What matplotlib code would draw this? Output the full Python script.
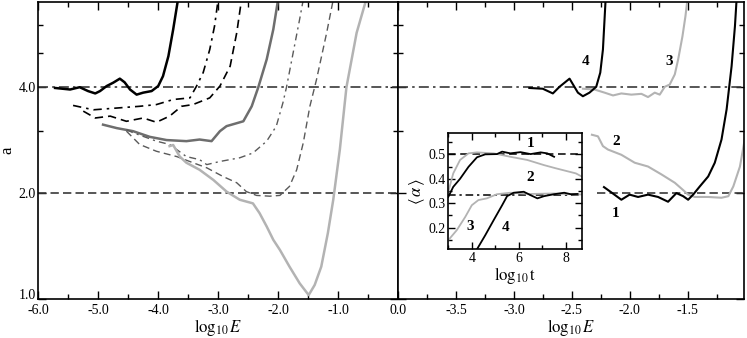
import matplotlib
matplotlib.use("Agg")
import matplotlib.pyplot as plt
from matplotlib.ticker import FixedLocator, FixedFormatter, MultipleLocator, NullFormatter

plt.rcParams['font.family'] = ['Liberation Serif', 'DejaVu Serif']
plt.rcParams['mathtext.fontset'] = 'stix'
plt.rcParams['axes.unicode_minus'] = False

# ---------------- left panel data ----------------
A_x = [-5.72, -5.47, -5.31, -5.17, -5.05, -4.97, -4.86, -4.75, -4.64, -4.56, -4.47, -4.36, -4.25, -4.11, -4.0, -3.92, -3.83, -3.75, -3.67]
A_y = [3.98, 3.94, 4.0, 3.90, 3.84, 3.90, 4.03, 4.12, 4.23, 4.13, 3.94, 3.81, 3.86, 3.90, 4.03, 4.30, 4.90, 5.84, 7.1]

B_x = [-5.42, -5.08, -4.69, -4.31, -4.03, -3.75, -3.47, -3.36, -3.25, -3.14, -3.06, -3.0]
B_y = [3.55, 3.45, 3.49, 3.53, 3.57, 3.69, 3.73, 4.03, 4.40, 5.12, 5.97, 7.1]

C_x = [-5.25, -5.05, -4.80, -4.53, -4.25, -4.03, -3.81, -3.61, -3.42, -3.14, -2.97, -2.80, -2.69, -2.61]
C_y = [3.42, 3.27, 3.31, 3.20, 3.27, 3.18, 3.31, 3.53, 3.57, 3.73, 4.03, 4.59, 5.71, 7.1]

D_x = [-4.92, -4.69, -4.42, -4.14, -3.86, -3.53, -3.31, -3.11, -2.97, -2.86, -2.58, -2.44, -2.33, -2.19, -2.08, -2.0]
D_y = [3.13, 3.06, 3.0, 2.89, 2.83, 2.81, 2.84, 2.81, 3.0, 3.10, 3.20, 3.53, 4.0, 4.80, 5.84, 7.1]

E_x = [-4.53, -4.42, -4.03, -3.81, -3.53, -3.31, -3.19, -2.97, -2.64, -2.42, -2.19, -2.03, -1.92, -1.86, -1.75, -1.64, -1.58]
E_y = [3.03, 2.97, 2.81, 2.75, 2.54, 2.49, 2.41, 2.46, 2.52, 2.60, 2.81, 3.10, 3.61, 4.0, 5.0, 6.25, 7.1]

F_x = [-4.53, -4.31, -4.03, -3.69, -3.42, -3.19, -2.92, -2.69, -2.53, -2.36, -2.14, -1.97, -1.81, -1.69, -1.58, -1.47, -1.36, -1.19, -1.08]
F_y = [3.0, 2.75, 2.63, 2.54, 2.44, 2.36, 2.23, 2.14, 2.02, 1.97, 1.96, 1.97, 2.09, 2.33, 2.78, 3.53, 4.2, 5.71, 7.1]

G_x = [-3.81, -3.75, -3.64, -3.53, -3.31, -3.08, -2.86, -2.64, -2.42, -2.31, -2.19, -2.08, -1.97, -1.81, -1.64, -1.49, -1.39, -1.28, -1.17, -1.08, -0.97, -0.86, -0.69, -0.53]
G_y = [2.72, 2.74, 2.54, 2.44, 2.33, 2.18, 2.02, 1.915, 1.87, 1.755, 1.607, 1.473, 1.379, 1.236, 1.108, 1.026, 1.096, 1.236, 1.539, 1.915, 2.66, 4.0, 5.71, 7.1]

# ---------------- right panel data ----------------
R1_x = [-2.223, -2.160, -2.073, -2.002, -1.929, -1.843, -1.756, -1.670, -1.598, -1.540, -1.497, -1.454, -1.396, -1.324, -1.267, -1.209, -1.165, -1.122, -1.093, -1.079]
R1_y = [2.08, 2.01, 1.915, 1.98, 1.95, 1.98, 1.95, 1.89, 2.00, 1.96, 1.915, 1.98, 2.09, 2.23, 2.44, 2.84, 3.46, 4.59, 5.97, 7.1]

R2_x = [-2.327, -2.275, -2.232, -2.189, -2.073, -1.958, -1.843, -1.727, -1.612, -1.540, -1.497, -1.440, -1.324, -1.209, -1.150, -1.107, -1.050, -1.0]
R2_y = [2.93, 2.90, 2.72, 2.66, 2.57, 2.44, 2.38, 2.26, 2.14, 2.04, 1.98, 1.95, 1.95, 1.94, 1.96, 2.09, 2.38, 2.95]

R3_x = [-2.405, -2.305, -2.218, -2.145, -2.073, -1.987, -1.900, -1.843, -1.785, -1.742, -1.699, -1.656, -1.612, -1.583, -1.546, -1.520, -1.503]
R3_y = [3.96, 3.94, 3.86, 3.79, 3.84, 3.81, 3.83, 3.75, 3.86, 3.81, 4.01, 4.07, 4.35, 4.80, 5.58, 6.37, 7.1]

R4_x = [-2.867, -2.751, -2.664, -2.607, -2.520, -2.448, -2.405, -2.348, -2.290, -2.255, -2.232, -2.209]
R4_y = [3.98, 3.96, 3.84, 4.01, 4.23, 3.86, 3.77, 3.86, 4.01, 4.40, 5.12, 7.1]

# ---------------- inset data ----------------
I1_t = [3.0, 3.21, 3.50, 3.86, 4.22, 4.57, 5.07, 5.29, 5.64, 6.07, 6.50, 6.93, 7.21, 7.50]
I1_a = [0.326, 0.367, 0.40, 0.449, 0.488, 0.50, 0.501, 0.511, 0.504, 0.509, 0.501, 0.508, 0.504, 0.49]
I2_t = [3.0, 3.21, 3.50, 3.86, 4.22, 4.93, 5.64, 6.36, 7.07, 7.57, 8.43, 8.7]
I2_a = [0.347, 0.422, 0.477, 0.504, 0.508, 0.504, 0.49, 0.477, 0.456, 0.443, 0.422, 0.408]
I3_t = [3.0, 3.36, 3.72, 4.0, 4.28, 4.64, 5.07, 5.64, 6.5, 7.5, 8.43, 8.7]
I3_a = [0.149, 0.19, 0.244, 0.292, 0.313, 0.32, 0.337, 0.343, 0.338, 0.340, 0.336, 0.336]
I4_t = [4.22, 4.57, 4.93, 5.29, 5.50, 5.78, 6.21, 6.50, 6.79, 7.07, 7.50, 7.93, 8.21, 8.5]
I4_a = [0.112, 0.169, 0.231, 0.292, 0.329, 0.343, 0.347, 0.333, 0.32, 0.329, 0.337, 0.343, 0.337, 0.338]

y_major = [1.0, 2.0, 4.0]
y_major_labels = ['1.0', '2.0', '4.0']
y_minor = [3.0, 5.0, 6.0]

W, H = 747, 338
fig = plt.figure(figsize=(W / 100, H / 100), dpi=100)

axL = fig.add_axes([38.3 / W, 39 / H, (398 - 38.3) / W, (299 - 1.7) / H])
axR = fig.add_axes([398 / W, 39 / H, (744 - 398) / W, (299 - 1.7) / H])

BLK = 'black'
DG = '#6e6e6e'
MG = '#5a5a5a'
LG = '#b3b3b3'
REF = '#3a3a3a'
dashdot = (6, 2.5, 1.5, 2.5)

for ax in (axL, axR):
    ax.set_yscale('log')
    ax.set_ylim(1.0, 7.0)
    ax.yaxis.set_major_locator(FixedLocator(y_major))
    ax.yaxis.set_minor_locator(FixedLocator(y_minor))
    ax.yaxis.set_minor_formatter(NullFormatter())
    ax.tick_params(which='both', direction='in', top=True, right=True, labelsize=10)
    ax.tick_params(axis='x', which='both', pad=3.5)
    ax.tick_params(axis='y', which='both', pad=2)
    ax.tick_params(which='major', length=6, width=1.0)
    ax.tick_params(which='minor', length=3.5, width=1.0)
    for s in ax.spines.values():
        s.set_linewidth(1.2)
    ax.axhline(4.0, color=REF, lw=1.2, dashes=dashdot)

axL.yaxis.set_major_formatter(FixedFormatter(y_major_labels))
axR.yaxis.set_major_formatter(NullFormatter())

# left panel
axL.set_xlim(-6.0, 0.0)
axL.xaxis.set_major_locator(MultipleLocator(1.0))
axL.xaxis.set_minor_locator(MultipleLocator(0.5))
axL.xaxis.set_major_formatter(plt.FuncFormatter(lambda v, p: f'{v:.1f}'))
axL.axhline(2.0, color=REF, lw=1.2, dashes=(5, 2.5))

axL.plot(A_x, A_y, color=BLK, lw=1.8)
axL.plot(B_x, B_y, color=BLK, lw=1.2, dashes=(5, 3, 1.5, 3))
axL.plot(C_x, C_y, color=BLK, lw=1.2, dashes=(5, 3))
axL.plot(D_x, D_y, color=DG, lw=1.8)
axL.plot(E_x, E_y, color=MG, lw=1.0, dashes=(5, 3, 1.5, 3))
axL.plot(F_x, F_y, color=MG, lw=1.0, dashes=(5, 3))
axL.plot(G_x, G_y, color=LG, lw=1.8)

axL.set_xlabel(r'$\log_{10}E$', fontsize=12, labelpad=0)
axL.set_ylabel('a', fontsize=12, labelpad=2)

# nudge the bottom "1.0" label up so it sits just above "-6.0"
ticks = axL.yaxis.get_major_ticks()
ticks[0].label1.set_verticalalignment('baseline')

# right panel
axR.set_xlim(-4.0, -1.015)
axR.xaxis.set_major_locator(MultipleLocator(0.5))
axR.xaxis.set_minor_locator(MultipleLocator(0.25))
axR.xaxis.set_major_formatter(plt.FuncFormatter(lambda v, p: '' if v <= -3.99 else f'{v:.1f}'))
axR.axhline(2.0, xmin=0.575, color=REF, lw=1.2, dashes=(5, 2.5))

axR.plot(R2_x, R2_y, color=LG, lw=1.5)
axR.plot(R3_x, R3_y, color=LG, lw=1.5)
axR.plot(R1_x, R1_y, color=BLK, lw=1.5)
axR.plot(R4_x, R4_y, color=BLK, lw=1.5)
axR.set_xlabel(r'$\log_{10}E$', fontsize=12, labelpad=0)

lab_kw = dict(fontsize=11, fontweight='bold', ha='center', va='center')
axR.text(-2.38, 4.74, '4', **lab_kw)
axR.text(-1.66, 4.74, '3', **lab_kw)
axR.text(-2.12, 2.81, '2', **lab_kw)
axR.text(-2.12, 1.755, '1', **lab_kw)

# inset
axI = fig.add_axes([448.3 / W, (338 - 249) / H, (582.3 - 448.3) / W, (249 - 133.3) / H])
axI.set_xlim(3.0, 8.7)
axI.set_ylim(0.113, 0.586)
axI.xaxis.set_major_locator(MultipleLocator(2))
axI.xaxis.set_minor_locator(MultipleLocator(1))
axI.yaxis.set_major_locator(MultipleLocator(0.1))
axI.yaxis.set_minor_locator(MultipleLocator(0.05))
axI.yaxis.set_major_formatter(plt.FuncFormatter(lambda v, p: f'{v:.1f}'))
axI.tick_params(which='both', direction='in', top=True, right=True, labelsize=10, pad=2)
axI.tick_params(which='major', length=5, width=1.0)
axI.tick_params(which='minor', length=3, width=1.0)
for s in axI.spines.values():
    s.set_linewidth(1.2)
axI.axhline(0.5, color=BLK, lw=1.1, dashes=(5, 3))
axI.axhline(1 / 3, color=BLK, lw=1.1, dashes=(5, 2.5, 1.5, 2.5))
axI.plot(I2_t, I2_a, color=LG, lw=1.3)
axI.plot(I3_t, I3_a, color=LG, lw=1.3)
axI.plot(I1_t, I1_a, color=BLK, lw=1.3)
axI.plot(I4_t, I4_a, color=BLK, lw=1.3)
axI.set_xlabel(r'$\log_{10}\mathrm{t}$', fontsize=12, labelpad=0)
axI.set_ylabel(r'$\langle\,\alpha\,\rangle$', fontsize=12, labelpad=1)
ilab = dict(fontsize=11, fontweight='bold', ha='center', va='center')
axI.text(6.5, 0.545, '1', **ilab)
axI.text(6.47, 0.406, '2', **ilab)
axI.text(3.93, 0.207, '3', **ilab)
axI.text(5.43, 0.200, '4', **ilab)

fig.savefig('out.png', dpi=100)
